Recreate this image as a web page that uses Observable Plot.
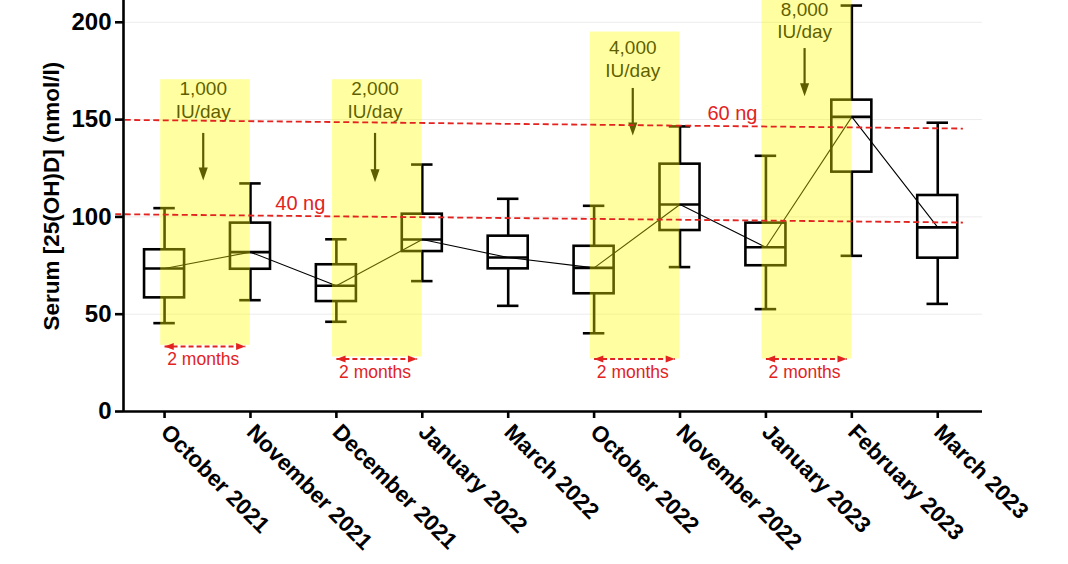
<!DOCTYPE html>
<html>
<head>
<meta charset="utf-8">
<script src="https://cdn.jsdelivr.net/npm/d3@7"></script>
<script src="https://cdn.jsdelivr.net/npm/@observablehq/plot@0.6"></script>
<style>
  html, body { margin: 0; padding: 0; background: #fff; }
  #chart svg { display: block; }
</style>
</head>
<body>
<div id="chart"></div>
<script>
// ---- data ----
const months = ["October 2021", "November 2021", "December 2021", "January 2022", "March 2022",
                "October 2022", "November 2022", "January 2023", "February 2023", "March 2023"];
const whiskerLow  = [45.4, 57.2, 46.1, 67.0, 54.3, 40.2, 74.2, 52.6, 80.0, 55.3];
const q1          = [58.4, 73.1, 56.5, 82.2, 73.3, 60.5, 93.0, 74.9, 123.0, 78.8];
const median      = [73.5, 81.9, 64.6, 88.4, 79.1, 73.8, 106.4, 84.4, 151.4, 94.6];
const q3          = [83.1, 96.8, 75.4, 101.4, 90.1, 84.9, 127.1, 96.8, 160.0, 111.0];
const whiskerHigh = [104.5, 117.2, 88.5, 126.9, 109.3, 105.7, 146.5, 131.4, 208.6, 148.4];
const yTicks = [0, 50, 100, 150, 200];
const yLabel = "Serum [25(OH)D] (nmol/l)";

// supplementation periods
const doseLabels = ["1,000\nIU/day", "2,000\nIU/day", "4,000\nIU/day", "8,000\nIU/day"];
const doseFrom = [0, 2, 5, 7];
const doseTo = [1, 3, 6, 8];
const doseTop = [170.5, 170.5, 195, 215];
const doseBottom = [34, 28, 27, 27];
const doseTextY = [160.4, 160.4, 181.4, 201.3];
const doseArrowFrom = [142.9, 142.9, 166, 186.5];
const doseArrowTo = [118.7, 117.8, 141.8, 162];
const spanLabel = "2 months";
const spanY = [33.4, 27, 27, 27];
const spanTextY = [26.6, 20, 20, 20];

// reference thresholds
const thrLabels = ["40 ng", "60 ng"];
const thrLeft = [101.4, 149.9];
const thrRight = [97.1, 145.4];
const thrLabelX = [1.58, 6.61];
const thrLabelY = [106.9, 153.1];

// ---- build tables ----
const boxes = months.map((m, i) => ({i, m, lo: whiskerLow[i], q1: q1[i], med: median[i], q3: q3[i], hi: whiskerHigh[i]}));
const doses = doseLabels.map((t, k) => ({
  t, from: doseFrom[k], to: doseTo[k], top: doseTop[k], bottom: doseBottom[k],
  ty: doseTextY[k], a1: doseArrowFrom[k], a2: doseArrowTo[k], sy: spanY[k], sty: spanTextY[k]
}));
const thr = thrLabels.map((t, k) => ({t, left: thrLeft[k], right: thrRight[k], lx: thrLabelX[k], ly: thrLabelY[k]}));

const BOX = 0.233, CAP = 0.125;
const RED = "#e2231f";
const FONT = "'Liberation Sans', Arial, Helvetica, sans-serif";

const triLeft = {draw(ctx, size) { const r = Math.sqrt(size / Math.PI); ctx.moveTo(-r, 0); ctx.lineTo(r, -0.75 * r); ctx.lineTo(r, 0.75 * r); ctx.closePath(); }};
const triRight = {draw(ctx, size) { const r = Math.sqrt(size / Math.PI); ctx.moveTo(r, 0); ctx.lineTo(-r, -0.75 * r); ctx.lineTo(-r, 0.75 * r); ctx.closePath(); }};
const triDown = {draw(ctx, size) { const r = Math.sqrt(size / Math.PI); ctx.moveTo(0, r); ctx.lineTo(-0.7 * r, -r); ctx.lineTo(0.7 * r, -r); ctx.closePath(); }};

const chart = Plot.plot({
  width: 1068,
  height: 564,
  marginLeft: 123,
  marginRight: 86,
  marginTop: 0,
  marginBottom: 153,
  style: {fontFamily: FONT, background: "#fff", color: "#000"},
  x: {type: "linear", domain: [-0.478, 9.521], axis: null},
  y: {domain: [0, 211.2], axis: null},
  marks: [
    // faint grid
    Plot.ruleY([50, 100, 150, 200], {stroke: "#ececec", strokeWidth: 1}),
    // boxes
    Plot.rect(boxes, {x1: d => d.i - BOX, x2: d => d.i + BOX, y1: "q1", y2: "q3", fill: "none", stroke: "#000", strokeWidth: 2.6}),
    Plot.ruleY(boxes, {y: "med", x1: d => d.i - BOX, x2: d => d.i + BOX, stroke: "#000", strokeWidth: 2.6}),
    Plot.ruleX(boxes, {x: "i", y1: "q3", y2: "hi", stroke: "#000", strokeWidth: 2.6}),
    Plot.ruleX(boxes, {x: "i", y1: "lo", y2: "q1", stroke: "#000", strokeWidth: 2.6}),
    Plot.ruleY(boxes, {y: "hi", x1: d => d.i - CAP, x2: d => d.i + CAP, stroke: "#000", strokeWidth: 2.6}),
    Plot.ruleY(boxes, {y: "lo", x1: d => d.i - CAP, x2: d => d.i + CAP, stroke: "#000", strokeWidth: 2.6}),
    // median trajectory
    Plot.line(boxes, {x: "i", y: "med", stroke: "#000", strokeWidth: 1.1}),
    // dose annotations (under the yellow overlay)
    Plot.text(doses, {x: d => (d.from + d.to) / 2 - 0.05, y: "ty", text: "t", fill: "#000", fontSize: 19, lineHeight: 1.17, fontWeight: "normal"}),
    Plot.ruleX(doses, {x: d => (d.from + d.to) / 2 - 0.05, y1: "a1", y2: "a2", stroke: "#000", strokeWidth: 2.2, insetBottom: 8}),
    Plot.dot(doses, {x: d => (d.from + d.to) / 2 - 0.05, y: "a2", symbol: triDown, r: 6.5, dy: -6.5, fill: "#000", stroke: "none"}),
    // yellow supplementation periods
    Plot.rect(doses, {x1: d => d.from - 0.045, x2: d => d.to, y1: "bottom", y2: "top", fill: "#ffff00", fillOpacity: 0.37}),
    // thresholds
    Plot.link(thr, {x1: -0.574, x2: 9.293, y1: "left", y2: "right", stroke: RED, strokeWidth: 1.8, strokeDasharray: "6,3.5"}),
    Plot.text(thr, {x: "lx", y: "ly", text: "t", fill: RED, fontSize: 20, fontWeight: "normal"}),
    // 2 months spans
    Plot.link(doses, {x1: d => d.from, x2: d => d.to - 0.06, y1: "sy", y2: "sy", stroke: RED, strokeWidth: 2, strokeDasharray: "5,3"}),
    Plot.dot(doses, {x: "from", y: "sy", symbol: triLeft, r: 4.6, dx: 4.6, fill: RED, stroke: "none"}),
    Plot.dot(doses, {x: d => d.to - 0.06, y: "sy", symbol: triRight, r: 4.6, dx: -4.6, fill: RED, stroke: "none"}),
    Plot.text(doses, {x: d => d.from + 0.45, y: "sty", text: () => spanLabel, fill: RED, fontSize: 17.5, fontWeight: "normal"}),
    // axes
    Plot.ruleY([0], {x1: -0.478, x2: 9.521, stroke: "#000", strokeWidth: 2.6}),
    Plot.ruleX([-0.478], {y1: 0, y2: 211.2, stroke: "#000", strokeWidth: 2.6}),
    Plot.axisY({ticks: yTicks, tickSize: 8, tickPadding: 4, strokeWidth: 2.6, fontSize: 24, fontWeight: "bold", label: null}),
    Plot.axisX({ticks: d3.range(months.length), tickFormat: i => months[i], tickSize: 7, strokeWidth: 2.6,
                tickRotate: 45, tickPadding: 10, fontSize: 22.5, fontWeight: "bold", label: null}),
    Plot.text([yLabel], {x: -1.31, y: 110.7, rotate: -90, fontSize: 22.5, fontWeight: "bold", fill: "#000"})
  ]
});
document.getElementById("chart").appendChild(chart);
</script>
</body>
</html>
